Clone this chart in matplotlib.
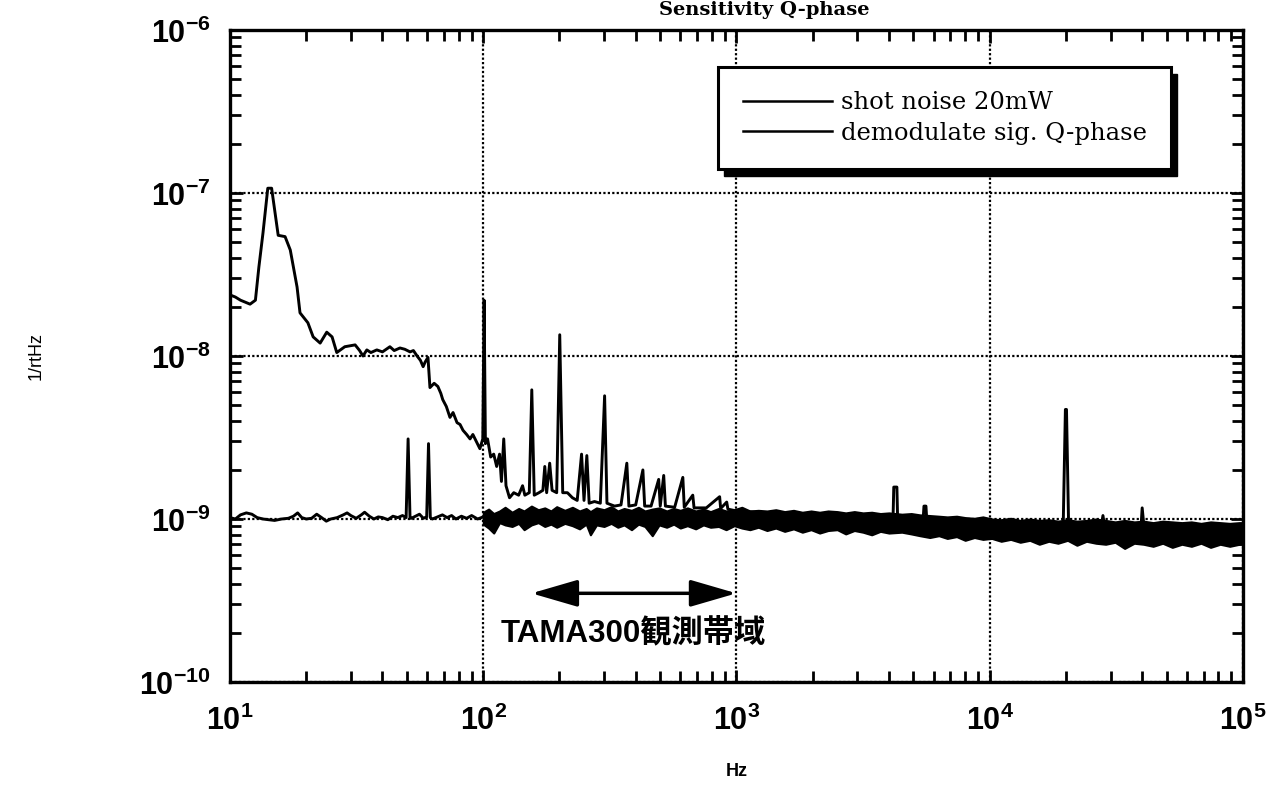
import numpy as np
import matplotlib
matplotlib.use("Agg")
import matplotlib.pyplot as plt
from matplotlib.patches import Rectangle
from matplotlib.ticker import LogLocator, NullFormatter

plt.rcParams['mathtext.fontset'] = 'custom'
plt.rcParams['mathtext.rm'] = 'Liberation Sans:bold'
plt.rcParams['mathtext.bf'] = 'Liberation Sans:bold'

# ---------------- data ----------------
xtick_vals = [1e1, 1e2, 1e3, 1e4, 1e5]
xtick_labels = [r'$\mathbf{10^{1}}$', r'$\mathbf{10^{2}}$', r'$\mathbf{10^{3}}$',
                r'$\mathbf{10^{4}}$', r'$\mathbf{10^{5}}$']
ytick_vals = [1e-10, 1e-9, 1e-8, 1e-7, 1e-6]
ytick_labels = [r'$\mathbf{10^{-10}}$', r'$\mathbf{10^{-9}}$', r'$\mathbf{10^{-8}}$',
                r'$\mathbf{10^{-7}}$', r'$\mathbf{10^{-6}}$']

series_labels = ["shot noise 20mW", "demodulate sig. Q-phase"]

# shot noise, low-frequency part (Hz, 1/rtHz in units of 1e-9)
shot_lf_f = [10, 10.5, 11, 11.6, 12.2, 12.8, 13.5, 14.2, 15, 16, 17, 17.8, 18.5,
             19.2, 20, 21, 22, 23, 24, 25, 26.5, 28, 29, 30, 31.5, 33, 34, 35.5,
             37, 38.5, 40, 42, 44, 46, 48, 49.6, 50.5, 51.4, 52, 54, 56, 58, 59.8,
             60.8, 61.8, 63, 66, 69, 72, 75, 78, 82, 86, 90, 95, 100]
shot_lf_v = [1.02, 1.00, 1.06, 1.09, 1.07, 1.02, 1.00, 0.99, 0.98, 1.00, 1.01, 1.04,
             1.09, 1.02, 1.00, 1.01, 1.07, 1.02, 0.97, 1.00, 1.02, 1.06, 1.09, 1.05,
             1.01, 1.06, 1.10, 1.04, 1.00, 1.03, 1.02, 0.99, 1.04, 1.02, 1.05, 1.02,
             3.10, 1.01, 1.01, 1.04, 1.07, 1.01, 1.03, 2.90, 1.02, 1.00, 1.03, 1.06,
             1.02, 1.05, 1.00, 1.04, 1.01, 1.05, 1.00, 1.03]

# shot noise (and overlapping demod) noisy band above 100 Hz: envelope (units 1e-9)
band_f = [100, 105, 110, 116, 122, 130, 138, 145, 155, 165, 175, 185, 195, 210, 225,
          240, 255, 265, 280, 300, 320, 340, 360, 385, 410, 435, 465, 495, 530, 565,
          600, 640, 690, 740, 790, 850, 910, 980, 1050, 1130, 1220, 1320, 1430, 1550,
          1680, 1820, 1970, 2130, 2300, 2500, 2700, 2920, 3160, 3420, 3700, 4000,
          4500, 4900, 5300, 5800, 6300, 6800, 7400, 8000, 8700, 9400, 10200, 11100,
          12100, 13200, 14400, 15700, 17100, 18600, 20300, 22100, 24100, 26300,
          28700, 31300, 34100, 37200, 40500, 44200, 48200, 52600, 57400, 62600,
          68300, 74500, 81300, 88700, 96800, 100000]
band_hi = [1.10, 1.15, 1.08, 1.12, 1.18, 1.10, 1.16, 1.12, 1.20, 1.14, 1.17, 1.12,
           1.19, 1.13, 1.18, 1.12, 1.16, 1.11, 1.17, 1.14, 1.19, 1.12, 1.16, 1.13,
           1.18, 1.12, 1.15, 1.17, 1.12, 1.16, 1.13, 1.17, 1.12, 1.15, 1.11, 1.16,
           1.12, 1.14, 1.18, 1.12, 1.13, 1.12, 1.14, 1.11, 1.13, 1.10, 1.12, 1.10,
           1.12, 1.11, 1.09, 1.11, 1.09, 1.10, 1.08, 1.09, 1.07, 1.08, 1.06, 1.05,
           1.04, 1.03, 1.04, 1.02, 1.01, 1.03, 1.00, 0.99, 1.01, 0.98, 1.00, 0.98,
           0.99, 0.97, 0.99, 0.97, 0.98, 1.00, 0.98, 0.96, 0.98, 0.96, 0.97, 0.95,
           0.97, 0.96, 0.95, 0.96, 0.94, 0.96, 0.95, 0.94, 0.95, 0.95]
band_lo = [0.93, 0.88, 0.82, 0.95, 0.92, 0.90, 0.94, 0.86, 0.92, 0.95, 0.90, 0.93,
           0.89, 0.94, 0.91, 0.87, 0.93, 0.80, 0.92, 0.90, 0.94, 0.89, 0.92, 0.86,
           0.93, 0.90, 0.79, 0.92, 0.89, 0.93, 0.88, 0.91, 0.87, 0.92, 0.89, 0.90,
           0.86, 0.91, 0.88, 0.86, 0.89, 0.85, 0.88, 0.84, 0.87, 0.83, 0.86, 0.82,
           0.85, 0.86, 0.81, 0.85, 0.83, 0.80, 0.84, 0.82, 0.83, 0.81, 0.79, 0.77,
           0.79, 0.76, 0.78, 0.74, 0.77, 0.75, 0.76, 0.73, 0.75, 0.72, 0.74, 0.70,
           0.73, 0.71, 0.74, 0.69, 0.73, 0.71, 0.70, 0.72, 0.66, 0.71, 0.70, 0.68,
           0.71, 0.67, 0.70, 0.68, 0.71, 0.67, 0.70, 0.68, 0.70, 0.71]

# demodulated signal Q-phase (Hz, 1/rtHz)
demod_f = [10.0, 10.5, 11.0, 12.0, 12.6, 13.0, 13.5, 14.1, 14.6, 15.5, 16.5, 17.3,
           18.4, 18.9, 20.3, 21.3, 22.7, 24.1, 25.3, 26.4, 28.4, 31.2, 32.5, 33.5,
           34.7, 36.0, 38.0, 40.0, 42.8, 44.5, 46.9, 49.0, 51.4, 53.0, 54.8, 56.5,
           57.9, 59.0, 60.5, 61.6, 64.0, 66.2, 68.0, 69.2, 71.5, 73.9, 76.0, 78.8,
           81.0, 83.2, 86.0, 88.7, 91.0, 94.5, 97.0, 99.6, 100.8, 102, 104, 107,
           110, 113, 116, 118, 120.5, 123, 127, 132, 138, 143, 146, 152, 155.5, 159,
           166, 172, 175, 178, 183, 187, 195, 200.5, 206, 215, 225, 235, 244.5, 250,
           256.5, 262, 275, 290, 301.5, 308, 330, 350, 369, 376, 400, 427, 434, 460,
           493, 500, 516, 524, 570, 614, 622, 672, 680, 760, 858, 866, 915, 925,
           1000, 4150, 4180, 4300, 4330, 5450, 5500, 5600, 5650, 19500, 19900,
           20100, 20500, 27500, 28000, 28500, 39500, 40000, 40800, 100000]
demod_v = [2.37e-8, 2.3e-8, 2.2e-8, 2.08e-8, 2.2e-8, 3.5e-8, 5.7e-8, 1.07e-7, 1.07e-7,
           5.5e-8, 5.4e-8, 4.47e-8, 2.65e-8, 1.84e-8, 1.6e-8, 1.31e-8, 1.2e-8, 1.4e-8,
           1.31e-8, 1.05e-8, 1.14e-8, 1.17e-8, 1.08e-8, 1.0e-8, 1.09e-8, 1.05e-8,
           1.09e-8, 1.06e-8, 1.14e-8, 1.08e-8, 1.12e-8, 1.1e-8, 1.06e-8, 1.08e-8,
           1.0e-8, 9.4e-9, 8.6e-9, 9.2e-9, 9.8e-9, 6.4e-9, 6.8e-9, 6.5e-9, 5.9e-9,
           5.4e-9, 4.9e-9, 4.2e-9, 4.5e-9, 3.9e-9, 3.8e-9, 3.5e-9, 3.3e-9, 3.1e-9,
           3.3e-9, 2.93e-9, 2.7e-9, 3.1e-9, 2.2e-8, 2.9e-9, 3.1e-9, 2.4e-9, 2.5e-9,
           2.1e-9, 2.5e-9, 1.7e-9, 3.1e-9, 1.6e-9, 1.35e-9, 1.45e-9, 1.4e-9, 1.6e-9,
           1.4e-9, 1.45e-9, 6.2e-9, 1.4e-9, 1.45e-9, 1.5e-9, 2.1e-9, 1.45e-9, 2.2e-9,
           1.5e-9, 1.45e-9, 1.35e-8, 1.45e-9, 1.45e-9, 1.35e-9, 1.3e-9, 2.5e-9,
           1.3e-9, 2.45e-9, 1.25e-9, 1.28e-9, 1.25e-9, 5.7e-9, 1.25e-9, 1.2e-9,
           1.22e-9, 2.2e-9, 1.2e-9, 1.22e-9, 2.0e-9, 1.2e-9, 1.2e-9, 1.75e-9, 1.2e-9,
           1.85e-9, 1.2e-9, 1.18e-9, 1.8e-9, 1.18e-9, 1.4e-9, 1.17e-9, 1.17e-9,
           1.37e-9, 1.16e-9, 1.27e-9, 1.15e-9, 1.12e-9, 0.98e-9, 1.57e-9, 1.57e-9,
           0.98e-9, 0.95e-9, 1.2e-9, 1.2e-9, 0.95e-9, 0.88e-9, 4.7e-9, 4.7e-9,
           0.88e-9, 0.88e-9, 1.05e-9, 0.88e-9, 0.85e-9, 1.17e-9, 0.85e-9, 0.85e-9]

band_label = "TAMA300観測帯域"
band_edges = [155, 1000]
band_arrow_y = 3.5e-10

title_text = "Sensitivity Q-phase"

# ---------------- figure ----------------
fig = plt.figure(figsize=(12.7, 7.92), dpi=100)
ax = fig.add_axes([0.1811, 0.1389, 0.7976, 0.8232])
ax.set_xscale('log')
ax.set_yscale('log')
ax.set_xlim(1e1, 1e5)
ax.set_ylim(1e-10, 1e-6)

scale = 1e-9
ax.plot(shot_lf_f, np.array(shot_lf_v) * scale, color='k', lw=2.1,
        label=series_labels[0], zorder=3)
ax.fill_between(band_f, np.array(band_lo) * scale, np.array(band_hi) * scale,
                color='k', lw=1.5, zorder=3)
ax.plot(demod_f, demod_v, color='k', lw=2.1, label=series_labels[1], zorder=3)

# grid
ax.grid(True, which='major', color='k', linestyle=(0, (1, 1)), lw=1.6)

# ticks
ax.set_xticks(xtick_vals, xtick_labels)
ax.set_yticks(ytick_vals, ytick_labels)
ax.xaxis.set_minor_locator(LogLocator(base=10, subs=np.arange(2, 10), numticks=20))
ax.yaxis.set_minor_locator(LogLocator(base=10, subs=np.arange(2, 10), numticks=20))
ax.xaxis.set_minor_formatter(NullFormatter())
ax.yaxis.set_minor_formatter(NullFormatter())
ax.tick_params(which='both', direction='in', top=True, right=True, color='k')
ax.tick_params(which='major', length=9, width=2, labelsize=22, pad=14)
ax.tick_params(which='minor', length=8, width=2)
ax.tick_params(axis='x', which='major', pad=16)
for s in ax.spines.values():
    s.set_linewidth(2.4)

ax.set_xlabel("Hz", fontsize=13, fontweight='bold', family='Liberation Sans')
ax.set_ylabel("1/rtHz", fontsize=13, family='Liberation Sans')
ax.xaxis.set_label_coords(0.5, -0.125)
ax.yaxis.set_label_coords(-0.183, 0.5)

# arrow and band label
ax.annotate('', xy=(band_edges[1], band_arrow_y), xytext=(band_edges[0], band_arrow_y),
            arrowprops=dict(arrowstyle='<|-|>,head_length=1.1,head_width=0.32',
                            lw=2.5, color='k', mutation_scale=26,
                            shrinkA=0, shrinkB=0), zorder=4)
ax.text(390, 2.0e-10, band_label, ha='center', va='center', fontsize=22.5,
        fontweight='bold', family=['Liberation Sans', 'Noto Sans CJK JP'], zorder=4)

# legend
leg = ax.legend(loc='upper left', bbox_to_anchor=(0.482, 0.943), borderaxespad=0,
                prop={'family': 'DejaVu Serif', 'size': 17.5}, handlelength=3.7,
                handletextpad=0.35, labelspacing=0.3, borderpad=1.0,
                fancybox=False, framealpha=1, edgecolor='k')
leg.get_frame().set_linewidth(2.2)
leg.set_zorder(6)
for h in leg.get_lines():
    h.set_linewidth(1.8)

fig.canvas.draw()
bb = leg.get_window_extent()
inv = ax.transAxes.inverted()
(x0, y0), (x1, y1) = inv.transform([[bb.x0 + 6, bb.y0 - 7], [bb.x1 + 6, bb.y1 - 7]])
ax.add_patch(Rectangle((x0, y0), x1 - x0, y1 - y0, transform=ax.transAxes,
                       facecolor='k', edgecolor='k', zorder=5.5, clip_on=False))

fig.text(0.685, 0.999, title_text, ha='right', va='top', fontsize=14,
         fontweight='bold', family='DejaVu Serif')

fig.savefig("out.png", dpi=100, facecolor='white')
